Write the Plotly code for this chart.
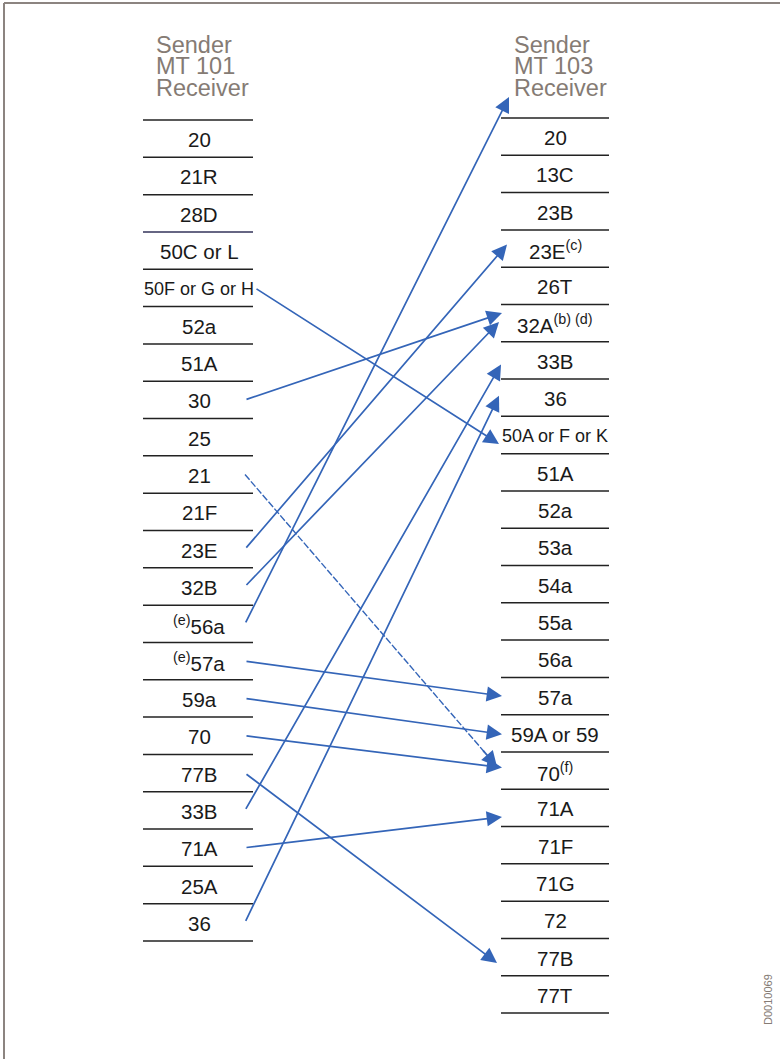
import plotly.graph_objects as go

# ---------------- data ----------------
header_left = ["Sender", "MT 101", "Receiver"]
header_right = ["Sender", "MT 103", "Receiver"]

left_labels = ["20", "21R", "28D", "50C or L", "50F or G or H", "52a", "51A", "30",
               "25", "21", "21F", "23E", "32B", "<sup>(e)</sup>56a", "<sup>(e)</sup>57a",
               "59a", "70", "77B", "33B", "71A", "25A", "36"]
right_labels = ["20", "13C", "23B", "23E<sup>(c)</sup>", "26T", "32A<sup>(b) (d)</sup>",
                "33B", "36", "50A or F or K", "51A", "52a", "53a", "54a", "55a", "56a",
                "57a", "59A or 59", "70<sup>(f)</sup>", "71A", "71F", "71G", "72", "77B", "77T"]

# mapping: left row index -> right row index (-1 = header)
link_from = [13, 11, 7, 12, 18, 21, 4, 9, 14, 15, 16, 19, 17]
link_to = [-1, 3, 5, 5, 6, 7, 8, 17, 15, 16, 17, 18, 22]
link_dashed = [False, False, False, False, False, False, False, True,
               False, False, False, False, False]

# ---------------- layout constants ----------------
W, H = 780, 1059
L_X0, L_X1, L_TOP = 143, 253, 120.0
R_X0, R_X1, R_TOP = 501, 609, 118.0
STEP_L = (941 - 120) / 22
STEP_R = (1013 - 118) / 24
BLUE = "#3465b8"
GRAY = "#857b74"
condensed = {"50F or G or H", "50A or F or K"}

# small per-link end adjustments (styling)
end_dx = [8, 7, 2, -1, 1, -1, -1, -3, 2, 2, 2, 2, -3]
end_dy = [0, -4, -10, -1, 4, -2, 9, -4, 0, 1, -3, 9, 6]
start_dx = [0, 0, 0, 0, 0, 0, 10, 0, 0, 0, 0, 0, 0]


def lrow(i):
    return L_TOP + STEP_L * (i + 0.5)


def rrow(j):
    return R_TOP + STEP_R * (j + 0.5)


fig = go.Figure()
shapes = []
annotations = []

# frame
shapes.append(dict(type="line", x0=4, x1=W, y0=3, y1=3, xref="x", yref="y",
                   line=dict(color="#8c8480", width=2)))
shapes.append(dict(type="line", x0=4, x1=4, y0=3, y1=H, xref="x", yref="y",
                   line=dict(color="#8c8480", width=2)))

# rules
for k in range(len(left_labels) + 1):
    y = L_TOP + STEP_L * k
    col = "#33335a" if k == 3 else "#222222"
    shapes.append(dict(type="line", x0=L_X0, x1=L_X1, y0=y, y1=y, xref="x", yref="y",
                       line=dict(color=col, width=1.5)))
for k in range(len(right_labels) + 1):
    y = R_TOP + STEP_R * k
    shapes.append(dict(type="line", x0=R_X0, x1=R_X1, y0=y, y1=y, xref="x", yref="y",
                       line=dict(color="#222222", width=1.5)))

FONT = "Liberation Sans, Arial, sans-serif"

# headers
for k, (hl, hr) in enumerate(zip(header_left, header_right)):
    yy = 44.5 + 21.5 * k
    annotations.append(dict(x=154, y=yy, text=hl, showarrow=False, xanchor="left",
                            yanchor="middle", xref="x", yref="y",
                            font=dict(family=FONT, size=23.5, color=GRAY)))
    annotations.append(dict(x=512, y=yy, text=hr, showarrow=False, xanchor="left",
                            yanchor="middle", xref="x", yref="y",
                            font=dict(family=FONT, size=23.5, color=GRAY)))

# labels
for i, t in enumerate(left_labels):
    annotations.append(dict(x=(L_X0 + L_X1) / 2 + 1, y=lrow(i) + 1, text=t, showarrow=False,
                            xanchor="center", yanchor="middle", xref="x", yref="y",
                            font=dict(family=FONT, size=18 if t in condensed else 20.5,
                                      color="#1a1a1a")))
for j, t in enumerate(right_labels):
    annotations.append(dict(x=(R_X0 + R_X1) / 2, y=rrow(j) + 1, text=t, showarrow=False,
                            xanchor="center", yanchor="middle", xref="x", yref="y",
                            font=dict(family=FONT, size=18 if t in condensed else 20.5,
                                      color="#1a1a1a")))

# arrows
for n, (a, b, d) in enumerate(zip(link_from, link_to, link_dashed)):
    x0, y0 = 245 + start_dx[n], lrow(a)
    if b < 0:
        x1, y1 = 501 + end_dx[n], 97
    else:
        x1, y1 = 500 + end_dx[n], rrow(b) + end_dy[n]
    if d:
        fig.add_trace(go.Scatter(x=[x0, x1 - (x1 - x0) * 0.05], y=[y0, y1 - (y1 - y0) * 0.05],
                                 mode="lines", hoverinfo="skip", showlegend=False,
                                 line=dict(color=BLUE, width=1.4, dash="7px,2px")))
        ax, ay = x1 - (x1 - x0) * 0.06, y1 - (y1 - y0) * 0.06
    else:
        ax, ay = x0, y0
    annotations.append(dict(x=x1, y=y1, ax=ax, ay=ay, xref="x", yref="y",
                            axref="x", ayref="y", showarrow=True, text="",
                            arrowhead=2, arrowsize=1.8, arrowwidth=1.7, arrowcolor=BLUE))

# code label
annotations.append(dict(x=768, y=1000, text="D0010069", showarrow=False, textangle=-90,
                        xref="x", yref="y", font=dict(family=FONT, size=11, color=GRAY)))

fig.update_layout(
    width=W, height=H, margin=dict(l=0, r=0, t=0, b=0),
    paper_bgcolor="white", plot_bgcolor="white",
    xaxis=dict(range=[0, W], visible=False, fixedrange=True),
    yaxis=dict(range=[H, 0], visible=False, fixedrange=True),
    shapes=shapes, annotations=annotations, showlegend=False,
)
fig.write_html("out.html", config={"displayModeBar": False},
               post_script="document.body.style.margin='0';"
                           "document.documentElement.style.overflow='hidden';")
